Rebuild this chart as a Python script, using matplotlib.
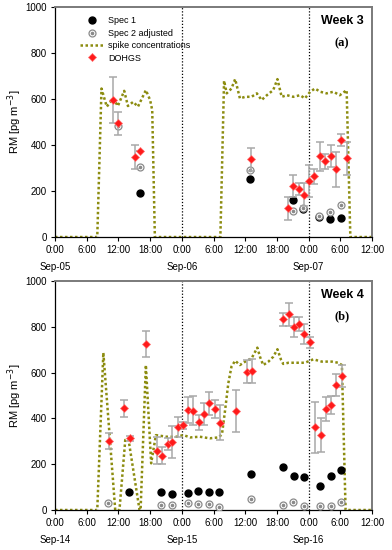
import matplotlib
matplotlib.use("Agg")
import matplotlib.pyplot as plt
from matplotlib.legend_handler import HandlerTuple

plt.rcParams["font.family"] = ["Liberation Sans", "DejaVu Sans"]

# hours since 0:00 of the first day shown
# ---- Week 3 ----
spike_t_a = [0, 8.0, 8.8, 9.8, 11.0, 11.9, 13.1, 13.8, 14.8, 15.7, 17.2, 18.0, 18.4, 18.9,
             31.3, 32.0, 32.5, 33.4, 34.1, 35.0, 36.0, 37.2, 38.2, 39.1, 40.1, 41.3, 42.1,
             42.9, 43.9, 45.1, 46.4, 47.3, 48.3, 49.2, 50.2, 51.4, 52.7, 53.9, 55.2, 55.9, 60]
spike_v_a = [0, 0, 646, 567, 603, 570, 636, 570, 588, 567, 639, 596, 552, 0,
             0, 680, 625, 646, 687, 603, 610, 610, 625, 596, 617, 639, 687,
             610, 617, 610, 617, 603, 632, 646, 632, 625, 632, 617, 639, 0, 0]

spec1_t_a = [16.0, 37.0, 45.0, 47.0, 50.0, 52.1, 54.1]
spec1_v_a = [190, 252, 161, 120, 88, 77, 81]
spec2_t_a = [12.0, 16.1, 37.0, 45.0, 47.0, 50.0, 52.1, 54.1]
spec2_v_a = [483, 306, 291, 114, 128, 90, 110, 139]

dohgs_t_a = [11.0, 12.0, 15.1, 16.1, 37.1, 44.05, 45.1, 46.1, 47.1, 48.1, 49.1, 50.2,
             51.1, 52.2, 53.1, 54.1, 55.2]
dohgs_v_a = [596, 494, 349, 375, 338, 125, 223, 209, 183, 243, 265, 352, 330, 352,
             294, 422, 342]
dohgs_e_a = [98, 48, 53, 0, 50, 50, 48, 25, 50, 70, 33, 63, 33, 47, 78, 27, 71]

# ---- Week 4 ----
spike_t_b = [0, 8.0, 9.15, 11.4, 12.2, 13.3, 13.9, 16.0, 16.2, 17.2, 18.2, 19.1, 21.1,
             23.0, 24.3, 25.6, 27.4, 29.3, 30.9, 31.6, 32.2, 32.8, 33.4, 34.1, 35.0,
             36.0, 37.2, 38.3, 38.8, 39.4, 40.4, 41.3, 42.1, 42.8, 43.2, 44.2, 46.1,
             47.3, 48.9, 50.5, 52.4, 53.6, 54.3, 55.0, 60]
spike_v_b = [0, 0, 687, 0, 0, 306, 310, 0, 0, 633, 204, 327, 320,
             320, 327, 317, 320, 313, 317, 330, 437, 553, 626, 652, 633,
             648, 662, 709, 669, 633, 648, 669, 702, 655, 638, 643, 643,
             643, 658, 648, 648, 643, 633, 0, 0]

spec1_t_b = [14.1, 20.1, 22.1, 25.1, 27.1, 29.2, 31.1, 37.1, 43.2, 45.2, 47.2, 50.2, 52.2, 54.1]
spec1_v_b = [77, 77, 70, 73, 82, 79, 77, 156, 186, 150, 143, 106, 150, 175]
spec2_t_b = [10.1, 20.1, 22.1, 25.1, 27.1, 29.2, 31.1, 37.1, 43.2, 45.1, 47.2, 50.2, 52.2, 54.1]
spec2_v_b = [29, 22, 22, 32, 26, 26, 14, 47, 22, 36, 17, 17, 17, 36]

dohgs_t_b = [10.2, 13.1, 14.2, 17.2, 19.25, 20.2, 21.3, 22.2, 23.2, 24.2, 25.2, 26.2,
             27.3, 28.2, 29.2, 30.2, 31.2, 34.3, 36.3, 37.2, 43.2, 44.3, 45.2, 46.2,
             47.2, 48.3, 49.2, 50.3, 51.2, 52.2, 53.2, 54.3]
dohgs_v_b = [303, 444, 313, 725, 259, 237, 288, 296, 364, 370, 437, 434, 383, 419, 466,
             440, 381, 432, 604, 607, 833, 855, 800, 811, 767, 732, 361, 328, 441, 459,
             546, 586]
dohgs_e_b = [35, 37, 10, 56, 58, 36, 25, 69, 44, 15, 58, 62, 33, 47, 51, 40, 76, 92,
             51, 51, 28, 50, 44, 31, 44, 25, 112, 73, 51, 38, 46, 48]

time_labels = ["0:00", "6:00", "12:00", "18:00"]
days_a = ["Sep-05", "Sep-06", "Sep-07"]
days_b = ["Sep-14", "Sep-15", "Sep-16"]

OLIVE = "#8c8c10"
GREY = "#a8a8a8"


def draw_panel(ax, spike_t, spike_v, s1_t, s1_v, s2_t, s2_v, d_t, d_v, d_e, days, week, tag):
    for x in (24, 48):
        ax.axvline(x, color="black", lw=0.9, ls=(0, (1, 1.5)), zorder=1)
    spike, = ax.plot(spike_t, spike_v, color=OLIVE, lw=1.8, ls=(0, (1, 1)), zorder=2)
    s1, = ax.plot(s1_t, s1_v, "o", color="black", ms=5, zorder=4, ls="none")
    s2a, = ax.plot(s2_t, s2_v, "o", mfc="white", mec="#8a8a8a", mew=0.9, ms=5, zorder=4, ls="none")
    s2b, = ax.plot(s2_t, s2_v, "o", color="#8a8a8a", ms=1.6, zorder=4, ls="none")
    ax.errorbar(d_t, d_v, yerr=d_e, fmt="none", ecolor=GREY, elinewidth=1.1, capsize=3,
                capthick=1.1, zorder=5)
    dh, = ax.plot(d_t, d_v, "D", color="#ff1a1a", mec="#ff7070", mew=0.5, ms=4.5, zorder=6, ls="none")

    ax.set_xlim(0, 60)
    ax.set_ylim(0, 1000)
    ax.set_xticks(range(0, 61, 6))
    ax.set_xticklabels([time_labels[i % 4] for i in range(11)])
    ax.set_yticks(range(0, 1001, 200))
    ax.tick_params(labelsize=7, length=3, width=0.8, pad=3)
    for i, d in enumerate(days):
        ax.annotate(d, xy=(24 * i, 0), xycoords=("data", "axes fraction"),
                    xytext=(0, -21.5), textcoords="offset points",
                    ha="center", va="center", fontsize=7)
    ax.set_ylabel("RM [pg m$^{-3}$]", fontsize=8, labelpad=1)
    for side in ("left", "bottom"):
        ax.spines[side].set_color("black")
        ax.spines[side].set_linewidth(0.9)
    for side in ("top", "right"):
        ax.spines[side].set_color("#7a7a7a")
        ax.spines[side].set_linewidth(1.4)
    ax.text(0.975, 0.938, week, transform=ax.transAxes, ha="right", va="center",
            fontsize=9, fontweight="bold")
    ax.text(0.905, 0.845, tag, transform=ax.transAxes, ha="center", va="center",
            fontsize=9, fontweight="bold", family="Liberation Serif")
    return spike, s1, (s2a, s2b), dh


fig = plt.figure(figsize=(3.92, 5.5), dpi=100)
ax1 = fig.add_axes([0.1403, 0.569, 0.8087, 0.418])
ax2 = fig.add_axes([0.1403, 0.0727, 0.8087, 0.4164])

h = draw_panel(ax1, spike_t_a, spike_v_a, spec1_t_a, spec1_v_a, spec2_t_a, spec2_v_a,
               dohgs_t_a, dohgs_v_a, dohgs_e_a, days_a, "Week 3", "(a)")
draw_panel(ax2, spike_t_b, spike_v_b, spec1_t_b, spec1_v_b, spec2_t_b, spec2_v_b,
           dohgs_t_b, dohgs_v_b, dohgs_e_b, days_b, "Week 4", "(b)")

ax1.legend([h[1], h[2], h[0], h[3]],
           ["Spec 1", "Spec 2 adjusted", "spike concentrations", "DOHGS"],
           handler_map={tuple: HandlerTuple(ndivide=1)},
           loc="upper left", bbox_to_anchor=(0.08, 0.96), frameon=False,
           fontsize=6.5, handlelength=2.6, handletextpad=0.5, labelspacing=0.38,
           borderpad=0, borderaxespad=0)

fig.savefig("out.png", dpi=100, facecolor="white")
